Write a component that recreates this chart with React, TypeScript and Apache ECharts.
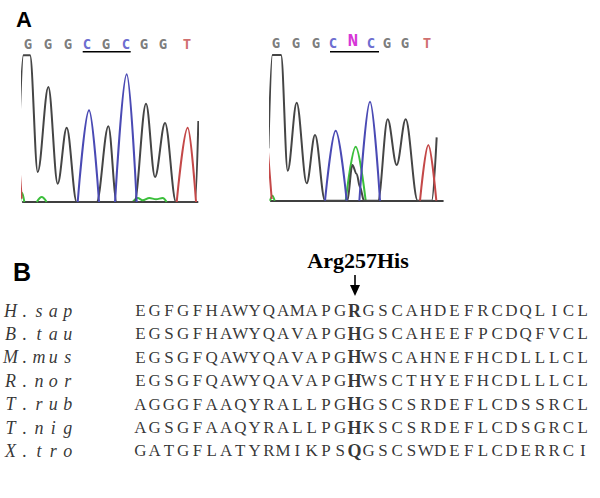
import { useEffect, useRef } from "react";
import * as echarts from "echarts";

// ---------- Panel A: chromatogram data (scan position, signal intensity) ----------
const wildCalls = ["G", "G", "G", "C", "G", "C", "G", "G", "T"];
const wildCallPos = [16, 76, 136, 193, 250, 310, 364, 421, 493];
const mutantCalls = ["G", "G", "G", "C", "N", "C", "G", "G", "T"];
const mutantCallPos = [16, 76, 136, 187, 247, 301, 349, 403, 469];

const wildG: (number[] | null)[] = [
  [-11, 195], [2, 440], [22, 440], [45, 90], [77, 345], [105, 55], [132, 223], [162, 0],
  [222, 0], [257, 227], [282, 0], [335, 0], [370, 295], [397, 75], [427, 237], [460, 0],
  [517, 0], [527, 243],
];
const wildC: (number[] | null)[] = [
  [165, 0], [199, 275], [229, 0], null, [277, 0], [312, 383], [342, 0],
];
const wildT: (number[] | null)[] = [
  [-13, 150], [-3, 10], null, [462, 0], [495, 223], [520, 0],
];
const wildA: (number[] | null)[] = [
  [-8, 0], [-2, 28], [5, 0], null, [42, 0], [57, 15], [72, 0], null,
  [330, 0], [345, 12], [360, 5], [380, 12], [400, 8], [420, 12], [432, 0],
];

const mutG: (number[] | null)[] = [
  [-7, 157], [5, 437], [31, 437], [51, 90], [78, 294], [108, 52], [133, 197], [163, 0],
  [230, 0], [245, 107], [258, 80], [268, 40], [280, 0], [322, 0], [351, 244], [378, 107],
  [405, 244], [441, 0], [483, 0], [498, 190],
];
const mutC: (number[] | null)[] = [
  [163, 0], [195, 210], [228, 0], null, [266, 0], [298, 297], [328, 0],
];
const mutT: (number[] | null)[] = [
  [-9, 157], [3, 5], null, [448, 0], [473, 167], [497, 0],
];
const mutA: (number[] | null)[] = [
  [-2, 0], [5, 15], [12, 0], null, [225, 0], [255, 162], [285, 0],
];

// ---------- Panel B: alignment ----------
const species = ["H.sap", "B.tau", "M.mus", "R.nor", "T.rub", "T.nig", "X.tro"];
const sequences = [
  "EGFGFHAWYQAMAPGRGSCAHDEFRCDQLICL",
  "EGSGFHAWYQAVAPGHGSCAHEEFPCDQFVCL",
  "EGSGFQAWYQAVAPGHWSCAHNEFHCDLLLCL",
  "EGSGFQAWYQAVAPGHWSCTHYEFHCDLLLCL",
  "AGGGFAAQYRALLPGHGSCSRDEFLCDSSRCL",
  "AGSGFAAQYRALLPGHKSCSRDEFLCDSGRCL",
  "GATGFLATYRMIKPSQGSCSWDEFLCDERRCI",
];
const mutationColumn = 15;
const mutationLabel = "Arg257His";

const baseColor: Record<string, string> = {
  G: "#454545",
  C: "#4a4ab4",
  T: "#c44848",
  A: "#3cbf3c",
  N: "#cc00cc",
};
const letterColor: Record<string, string> = {
  G: "#5a5a5a",
  C: "#4646c4",
  T: "#c44848",
  N: "#cc00cc",
};

const SERIF = '"Liberation Serif", "DejaVu Serif", serif';

export default function App() {
  const ref = useRef<HTMLDivElement>(null);

  useEffect(() => {
    if (!ref.current) return;
    const chart = echarts.init(ref.current, undefined, { renderer: "svg" });

    const hiddenY = (gridIndex: number) => ({
      type: "value" as const,
      gridIndex,
      min: 0,
      max: 440,
      show: false,
    });
    const traceX = (gridIndex: number, max: number) => ({
      type: "value" as const,
      gridIndex,
      min: 0,
      max,
      axisLine: { show: true, onZero: false, lineStyle: { color: "#000", width: 1.6 } },
      axisTick: { show: false },
      axisLabel: { show: false },
      splitLine: { show: false },
    });

    const trace = (idx: number, data: (number[] | null)[], color: string) => ({
      type: "line" as const,
      xAxisIndex: idx,
      yAxisIndex: idx,
      data,
      showSymbol: false,
      smooth: 0.35,
      smoothMonotone: "x",
      clip: false,
      connectNulls: false,
      silent: true,
      z: 1,
      lineStyle: { color, width: 2 },
    });

    const calls = (idx: number, letters: string[], pos: number[]) => ({
      type: "scatter" as const,
      xAxisIndex: idx,
      yAxisIndex: idx,
      symbolSize: 0,
      silent: true,
      clip: false,
      data: letters.map((b, i) => ({
        name: b,
        value: [pos[i], 440],
        label: {
          color: letterColor[b],
          fontWeight: "bold",
          fontSize: b === "N" ? 18 : 14,
          fontFamily: b === "N" ? '"Liberation Mono", monospace' : '"DejaVu Sans Mono", monospace',
        },
      })),
      label: {
        show: true,
        position: "top",
        distance: 4,
        formatter: (p: any) => p.name,
      },
    });

    const seqData: any[] = [];
    sequences.forEach((s, r) => {
      s.split("").forEach((ch, c) => {
        seqData.push({
          name: ch,
          value: [c, r],
          label: c === mutationColumn ? { fontWeight: "bold", fontSize: 18 } : undefined,
        });
      });
    });
    const nameData: any[] = [];
    species.forEach((sp, r) => {
      sp.split("").forEach((ch, k) => {
        nameData.push({ name: ch, value: [-9.1 + k, r] });
      });
    });

    const option: any = {
      animation: false,
      backgroundColor: "#ffffff",
      grid: [
        { left: 22.7, top: 55.3, width: 175, height: 146.7 },
        { left: 270.7, top: 54, width: 172.3, height: 146.7 },
        { left: 2, top: 298.8, width: 587.9, height: 163.8 },
      ],
      xAxis: [
        traceX(0, 525),
        traceX(1, 517),
        { type: "value", gridIndex: 2, min: -9.7, max: 31.5, show: false },
      ],
      yAxis: [
        hiddenY(0),
        hiddenY(1),
        { type: "category", gridIndex: 2, data: species, inverse: true, show: false },
      ],
      series: [
        trace(0, wildA, baseColor.A),
        trace(0, wildG, baseColor.G),
        trace(0, wildC, baseColor.C),
        trace(0, wildT, baseColor.T),
        trace(1, mutA, baseColor.A),
        trace(1, mutG, baseColor.G),
        trace(1, mutC, baseColor.C),
        trace(1, mutT, baseColor.T),
        calls(0, wildCalls, wildCallPos),
        calls(1, mutantCalls, mutantCallPos),
        {
          type: "scatter",
          xAxisIndex: 2,
          yAxisIndex: 2,
          symbolSize: 0,
          silent: true,
          data: seqData,
          label: {
            show: true,
            position: "inside",
            formatter: (p: any) => p.name,
            color: "#000",
            fontFamily: SERIF,
            fontSize: 17,
          },
        },
        {
          type: "scatter",
          xAxisIndex: 2,
          yAxisIndex: 2,
          symbolSize: 0,
          silent: true,
          clip: false,
          data: nameData,
          label: {
            show: true,
            position: "inside",
            formatter: (p: any) => p.name,
            color: "#000",
            fontFamily: SERIF,
            fontStyle: "italic",
            fontSize: 18,
          },
        },
      ],
      graphic: [
        {
          type: "text",
          x: 16,
          y: 8,
          style: { text: "A", font: 'bold 22px "Liberation Sans"', fill: "#000" },
        },
        {
          type: "text",
          x: 13,
          y: 259,
          style: { text: "B", font: 'bold 25px "Liberation Sans"', fill: "#000" },
        },
        {
          type: "line",
          shape: { x1: 82.7, y1: 51.7, x2: 130.7, y2: 51.7 },
          style: { stroke: "#000", lineWidth: 1.4 },
        },
        {
          type: "line",
          shape: { x1: 330, y1: 51.7, x2: 379, y2: 51.7 },
          style: { stroke: "#000", lineWidth: 1.4 },
        },
        {
          type: "text",
          x: 358,
          y: 260,
          style: {
            text: mutationLabel,
            font: 'bold 22px "Liberation Serif"',
            fill: "#000",
            align: "center",
            verticalAlign: "middle",
            textAlign: "center",
            textVerticalAlign: "middle",
          },
        },
        {
          type: "line",
          shape: { x1: 355, y1: 275, x2: 355, y2: 288 },
          style: { stroke: "#000", lineWidth: 1.6 },
        },
        {
          type: "polygon",
          shape: { points: [[350, 285], [360, 285], [355, 296]] },
          style: { fill: "#000" },
        },
      ],
    };

    chart.setOption(option);
    return () => chart.dispose();
  }, []);

  return (
    <div
      ref={ref}
      style={{ position: "fixed", left: 0, top: 0, width: 600, height: 498, background: "#fff" }}
    />
  );
}
